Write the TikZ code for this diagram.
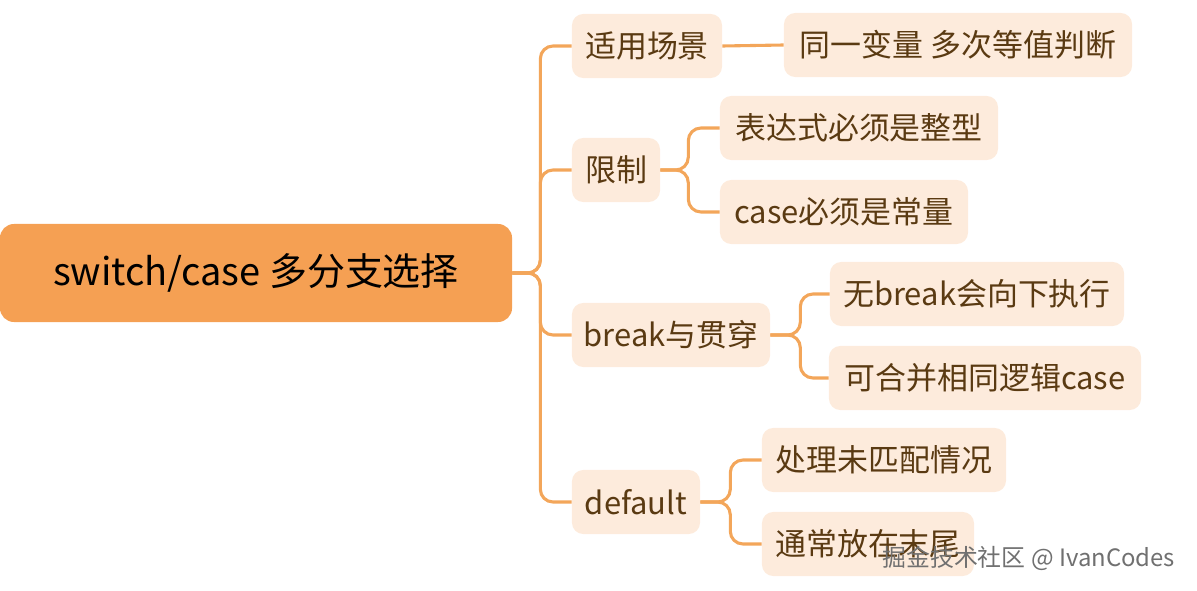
\documentclass[tikz,border=0pt]{standalone}
\usepackage{fontspec}
\setmainfont{Noto Sans CJK SC}
\usetikzlibrary{positioning}
\definecolor{rootfill}{HTML}{F5A053}
\definecolor{leaffill}{HTML}{FDEBDC}
\definecolor{leaftext}{HTML}{5A3A12}
\definecolor{linecol}{HTML}{F3A65A}
\definecolor{markcol}{HTML}{707070}
\begin{document}
\begin{tikzpicture}[x=0.025cm, y=-0.025cm]

				% Styles
				\tikzset{
					root/.style={
						rectangle, rounded corners=10pt, fill=rootfill,
						minimum width=12.8cm, minimum height=2.45cm,
						inner sep=0pt, font=\fontsize{27}{32}\selectfont
					},
					leaf/.style={
						rectangle, rounded corners=8pt, fill=leaffill,
						minimum height=1.6cm, inner sep=0pt,
						text=leaftext, font=\fontsize{22}{26}\selectfont
					},
					conn/.style={line width=2.2pt, linecol, rounded corners=9pt}
				}

				\useasboundingbox (0,0) rectangle (1197,591);

				% Root
				\node (root) [root] at (256,273) {switch/case 多分支选择};

				% Branches
				\node (scene) [leaf, minimum width=3.75cm] at (647,46) {适用场景};
				\node (limit) [leaf, minimum width=2.2cm] at (616,170) {限制};
				\node (brk) [leaf, minimum width=4.95cm] at (671,335) {break与贯穿};
				\node (dflt) [leaf, minimum width=3.2cm] at (636,502) {default};

				% Leaves
				\node (same) [leaf, minimum width=8.7cm] at (958,45) {同一变量 多次等值判断};
				\node (intexpr) [leaf, minimum width=6.95cm] at (859,128) {表达式必须是整型};
				\node (const) [leaf, minimum width=6.2cm] at (844,212) {case必须是常量};
				\node (fall) [leaf, minimum width=7.35cm] at (977,294) {无break会向下执行};
				\node (merge) [leaf, minimum width=7.8cm] at (985,378) {可合并相同逻辑case};
				\node (unmatch) [leaf, minimum width=6.1cm] at (884,460) {处理未匹配情况};
				\node (last) [leaf, minimum width=5.3cm] at (868,544) {通常放在末尾};

				% Connectors from root
				\foreach \b in {scene, limit, brk, dflt}
					\draw[conn] (root.east) -- ++(28,0) |- (\b.west);

				% Connectors to leaves
				\draw[conn] (scene.east) -- (same.west);
				\foreach \l in {intexpr, const}
					\draw[conn] (limit.east) -- ++(28,0) |- (\l.west);
				\foreach \l in {fall, merge}
					\draw[conn] (brk.east) -- ++(30,0) |- (\l.west);
				\foreach \l in {unmatch, last}
					\draw[conn] (dflt.east) -- ++(30,0) |- (\l.west);

				% Watermark
				\node (mark) [anchor=east, text=markcol, font=\fontsize{17}{20}\selectfont] at (1180,558) {掘金技术社区 @ IvanCodes};

\end{tikzpicture}
\end{document}
